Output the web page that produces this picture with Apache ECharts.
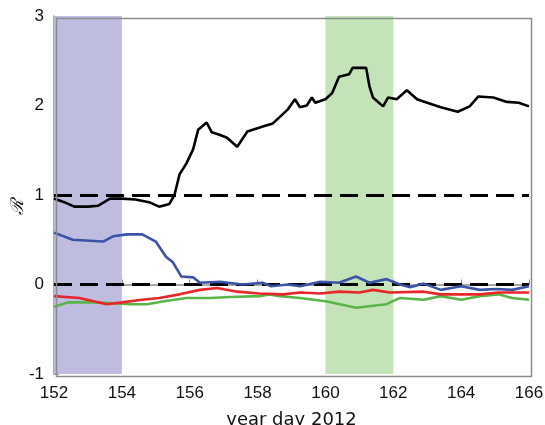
<!DOCTYPE html>
<html><head><meta charset="utf-8">
<script src="https://cdn.jsdelivr.net/npm/echarts@6/dist/echarts.min.js"></script>
<style>html,body{margin:0;padding:0;background:#fff}#c{width:545px;height:425px}</style>
</head><body><div id="c"></div>
<script>
const blackDays = [152,152.3,152.6,153,153.3,153.65,154,154.4,154.8,155.1,155.4,155.55,155.7,155.9,156.1,156.25,156.5,156.65,156.9,157.1,157.4,157.7,157.95,158.2,158.45,158.65,158.9,159.1,159.25,159.45,159.6,159.7,160,160.2,160.4,160.7,160.8,161.2,161.3,161.4,161.7,161.85,162.1,162.4,162.7,163,163.4,163.9,164.25,164.5,164.95,165.35,165.7,166];
const blackVals = [0.96,0.92,0.87,0.87,0.88,0.96,0.96,0.95,0.92,0.87,0.9,1.0,1.23,1.35,1.51,1.73,1.81,1.70,1.67,1.64,1.54,1.71,1.74,1.77,1.80,1.87,1.96,2.07,1.98,2.0,2.09,2.03,2.07,2.14,2.32,2.35,2.42,2.42,2.21,2.09,1.99,2.09,2.07,2.17,2.07,2.03,1.98,1.93,1.99,2.10,2.09,2.04,2.03,1.99];
const blueDays = [152,152.55,153.45,153.75,154.15,154.6,155.0,155.3,155.5,155.75,156.1,156.3,156.9,157.55,158.15,158.4,158.9,159.25,159.85,160.4,160.9,161.3,161.8,162.2,162.5,162.9,163.4,164.0,164.55,165.05,165.5,166];
const blueVals = [0.58,0.50,0.48,0.54,0.56,0.56,0.48,0.31,0.25,0.09,0.08,0.02,0.03,0.0,0.02,-0.02,0.0,-0.02,0.03,0.02,0.09,0.02,0.06,0.0,-0.03,0.01,-0.06,-0.02,-0.06,-0.05,-0.06,-0.02];
const redDays = [152,152.75,153.55,154.0,154.6,155.1,155.7,156.3,156.8,157.4,158.05,158.75,159.25,159.85,160.4,161.0,161.4,161.9,162.9,163.4,164.0,164.55,165.1,166];
const redVals = [-0.13,-0.15,-0.22,-0.2,-0.17,-0.15,-0.11,-0.06,-0.04,-0.08,-0.10,-0.11,-0.09,-0.10,-0.08,-0.09,-0.06,-0.09,-0.08,-0.11,-0.11,-0.11,-0.09,-0.09];
const greenDays = [152,152.4,153.25,154.25,154.75,155.2,155.9,156.6,157.2,158.05,158.35,158.65,159.25,160.05,160.9,161.8,162.2,162.9,163.4,164.0,164.55,165.1,165.5,166];
const greenVals = [-0.25,-0.2,-0.2,-0.22,-0.22,-0.19,-0.15,-0.15,-0.14,-0.13,-0.11,-0.13,-0.15,-0.19,-0.26,-0.22,-0.15,-0.17,-0.13,-0.17,-0.13,-0.11,-0.15,-0.17];
const refLevels = [1, 0];
const purpleBand = [152, 154];
const greenBand = [160, 162];

const zip = (a,b) => a.map((d,i) => [d, b[i]]);
const chart = echarts.init(document.getElementById('c'));
const axisGray = '#8c8c8c';
const lineSeries = (name, days, vals, color) => ({
  name, type:'line', data: zip(days, vals), showSymbol:false, symbol:'none',
  lineStyle:{color, width:2.6}, z:5, silent:true, animation:false
});
chart.setOption({
  animation:false,
  grid:{left:54, right:16, top:16, bottom:51, containLabel:false, outerBoundsMode:'none'},
  xAxis:{type:'value', min:152, max:166, interval:2,
    axisLine:{lineStyle:{color:axisGray, width:1.5}},
    axisTick:{inside:true, length:5, lineStyle:{color:axisGray}},
    splitLine:{show:false},
    axisLabel:{color:'#111', fontSize:17, fontFamily:'Liberation Sans', margin:11},
    name:'year day 2012', nameLocation:'middle', nameGap:37,
    nameTextStyle:{color:'#111', fontSize:18, fontFamily:'DejaVu Sans'}},
  yAxis:{type:'value', min:-1, max:3, interval:1,
    axisLine:{lineStyle:{color:axisGray, width:1.5}},
    axisTick:{inside:true, length:5, lineStyle:{color:axisGray}},
    splitLine:{show:false},
    axisLabel:{color:'#111', fontSize:17, fontFamily:'Liberation Sans', margin:10}},
  graphic:[
    {type:'rect', left:54, top:16, shape:{width:475, height:358}, style:{fill:'none', stroke:axisGray, lineWidth:1.5}, z:10, silent:true},
    {type:'text', x:18, y:207, rotation:Math.PI/2, style:{text:'ℛ', fontSize:18, fontFamily:'DejaVu Serif', fontStyle:'italic', fill:'#111', align:'center', verticalAlign:'middle'}}
  ],
  series:[
    {type:'line', data:[], silent:true,
      markArea:{silent:true, data:[
        [{xAxis:purpleBand[0], itemStyle:{color:'#bebde0'}},{xAxis:purpleBand[1]}],
        [{xAxis:greenBand[0], itemStyle:{color:'#c4e3b8'}},{xAxis:greenBand[1]}]
      ]}, z:1},
    {type:'line', data:[], silent:true,
      markLine:{silent:true, symbol:'none', label:{show:false},
        lineStyle:{color:'#000', width:3, type:[18,8]},
        data: refLevels.map(v => ({yAxis:v}))}, z:4},
    lineSeries('green', greenDays, greenVals, '#5ab548'),
    lineSeries('red', redDays, redVals, '#e8262a'),
    lineSeries('blue', blueDays, blueVals, '#3a53a4'),
    lineSeries('black', blackDays, blackVals, '#000')
  ]
});
</script></body></html>
